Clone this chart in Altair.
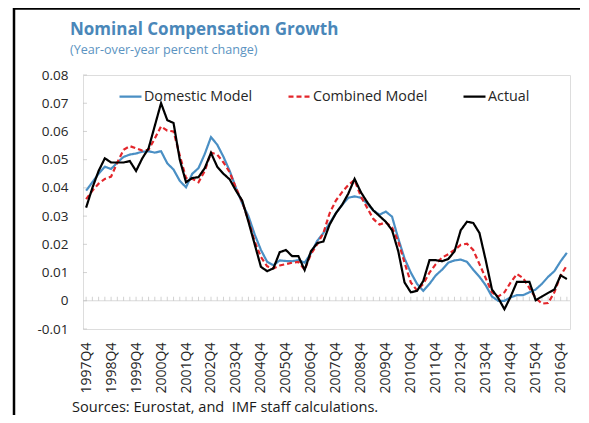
import altair as alt
import pandas as pd

# Categories: quarters from 1997Q4 to 2017Q1
all_q = [f"{y}Q{q}" for y in range(1997, 2018) for q in range(1, 5)]
quarters = all_q[all_q.index("1997Q4"): all_q.index("2017Q1") + 1]
tick_labels = [f"{y}Q4" for y in range(1997, 2017)]
y_ticks = [-0.01, 0.0, 0.01, 0.02, 0.03, 0.04, 0.05, 0.06, 0.07, 0.08]

series_names = ["Domestic Model", "Combined Model", "Actual"]
series_colors = ["#4a8fc4", "#e3262b", "#000000"]

domestic = [0.039, 0.042, 0.045, 0.0475, 0.0467, 0.049, 0.051, 0.0518, 0.0522, 0.0528,
            0.053, 0.0525, 0.053, 0.0487, 0.0465, 0.0425, 0.0402, 0.045, 0.047, 0.052,
            0.058, 0.0553, 0.051, 0.046, 0.040, 0.0345, 0.030, 0.0235, 0.018, 0.0138,
            0.0126, 0.0143, 0.0141, 0.014, 0.0144, 0.0135, 0.0168, 0.0212, 0.024, 0.0275,
            0.031, 0.034, 0.0365, 0.037, 0.0365, 0.0345, 0.032, 0.0305, 0.0316, 0.0298,
            0.022, 0.015, 0.010, 0.006, 0.0035, 0.006, 0.009, 0.011, 0.0135, 0.0143,
            0.0146, 0.0138, 0.011, 0.0085, 0.0055, 0.0015, 0.0, 0.0, 0.0012, 0.002,
            0.002, 0.003, 0.004, 0.006, 0.0085, 0.0105, 0.014, 0.017]

combined = [0.036, 0.039, 0.0415, 0.0432, 0.044, 0.049, 0.0535, 0.0548, 0.054, 0.0532,
            0.0535, 0.0575, 0.0618, 0.0603, 0.060, 0.0515, 0.0435, 0.0432, 0.042, 0.046,
            0.0525, 0.0518, 0.049, 0.0455, 0.040, 0.035, 0.0285, 0.021, 0.0155, 0.0122,
            0.0115, 0.0125, 0.013, 0.0135, 0.0138, 0.011, 0.0165, 0.020, 0.024, 0.031,
            0.0355, 0.0385, 0.041, 0.0428, 0.037, 0.033, 0.029, 0.027, 0.0278, 0.026,
            0.021, 0.0135, 0.0065, 0.0037, 0.006, 0.010, 0.013, 0.0153, 0.0165, 0.018,
            0.0198, 0.0202, 0.018, 0.013, 0.008, 0.003, 0.0015, 0.003, 0.0065, 0.0095,
            0.008, 0.0045, 0.001, -0.001, -0.0008, 0.003, 0.009, 0.0125]

actual = [0.033, 0.040, 0.046, 0.0505, 0.049, 0.049, 0.049, 0.0495, 0.046, 0.0505,
          0.054, 0.062, 0.070, 0.064, 0.063, 0.050, 0.042, 0.0435, 0.0438, 0.047,
          0.0524, 0.0475, 0.045, 0.043, 0.039, 0.0355, 0.028, 0.020, 0.012, 0.0105,
          0.0115, 0.0172, 0.018, 0.0158, 0.0158, 0.0109, 0.0175, 0.0204, 0.021, 0.027,
          0.031, 0.034, 0.038, 0.0432, 0.0385, 0.035, 0.032, 0.030, 0.028, 0.025,
          0.0175, 0.0065, 0.003, 0.0035, 0.007, 0.0144, 0.0144, 0.014, 0.0148, 0.0175,
          0.025, 0.028, 0.0276, 0.024, 0.0144, 0.004, 0.001, -0.003, 0.0015, 0.0067,
          0.0067, 0.0067, 0.0002, 0.0015, 0.0028, 0.004, 0.009, 0.0077]

title_text = "Nominal Compensation Growth"
subtitle_text = "(Year-over-year percent change)"
source_text = "Sources: Eurostat, and\u00a0 IMF staff calculations."

W, H = 487, 254
FONT = "Open Sans"

frames = []
for name, vals in zip(series_names, [domestic, combined, actual]):
    frames.append(pd.DataFrame({"quarter": quarters, "value": vals, "series": name}))
df = pd.concat(frames, ignore_index=True)

xscale = alt.Scale(type="point", padding=0.5, domain=quarters)
yscale = alt.Scale(domain=[-0.01, 0.08], nice=False, zero=False)

x_axis = alt.Axis(values=tick_labels, labelAngle=270, labelFontSize=14,
                  labelFont=FONT, labelColor="#262626", ticks=False,
                  domain=False, grid=False, labelPadding=13, title=None,
                  labelOverlap=False)
y_axis = alt.Axis(values=y_ticks, ticks=False, domain=False, grid=False,
                  labelPadding=15, labelFontSize=13.5, labelFont=FONT,
                  labelColor="#262626", title=None, labelOverlap=False,
                  labelExpr="datum.value == 0 ? '0' : (datum.value < 0 ? '-' : '') + format(abs(datum.value), '.2f')")

x_enc = alt.X("quarter:O", scale=xscale, sort=quarters, axis=x_axis)
y_enc = alt.Y("value:Q", scale=yscale, axis=y_axis)

legend_kw = dict(title=None, orient="none", legendX=35, legendY=9,
                 direction="horizontal", columns=3,
                 symbolType="stroke", symbolSize=484,
                 symbolStrokeWidth=2.2, labelFontSize=14.3,
                 labelFont=FONT, labelColor="#262626",
                 labelOffset=1, columnPadding=31)

color_enc = alt.Color("series:N", scale=alt.Scale(domain=series_names, range=series_colors),
                      legend=alt.Legend(**legend_kw))
dash_enc = alt.StrokeDash("series:N",
                          scale=alt.Scale(domain=series_names, range=[[1, 0], [5, 3], [1, 0]]),
                          legend=alt.Legend(**legend_kw))

base = alt.Chart(df)

lines = [
    base.transform_filter(alt.datum.series == name)
        .mark_line(strokeWidth=2.2)
        .encode(x=x_enc, y=y_enc, color=color_enc, strokeDash=dash_enc)
    for name in series_names
]

zero_line = alt.Chart(pd.DataFrame({"value": [0.0]})).mark_rule(
    color="#d9d9d9", strokeWidth=1).encode(y=y_enc)

q_ticks = alt.Chart(pd.DataFrame({"quarter": quarters, "value": 0.0})).mark_tick(
    orient="vertical", size=4, thickness=1, color="#bfbfbf", yOffset=-2
).encode(x=x_enc, y=y_enc)

y_inner_ticks = alt.Chart(pd.DataFrame({"value": y_ticks})).mark_tick(
    orient="horizontal", size=4, thickness=1, color="#bfbfbf"
).encode(y=y_enc, x=alt.value(2))

source = alt.Chart(alt.Data(values=[{}])).mark_text(
    align="left", baseline="alphabetic", fontSize=14.6, font=FONT, color="#1a1a1a"
).encode(x=alt.value(-11), y=alt.value(H + 83), text=alt.value(source_text))

frame_left = alt.Chart(alt.Data(values=[{}])).mark_rule(color="#000000", strokeWidth=2.5).encode(
    x=alt.value(-69), y=alt.value(-67), y2=alt.value(H + 90))
frame_top = alt.Chart(alt.Data(values=[{}])).mark_rule(color="#000000", strokeWidth=2.5).encode(
    x=alt.value(-70), x2=alt.value(W + 12), y=alt.value(-66.5))

chart = alt.layer(zero_line, q_ticks, y_inner_ticks, *lines, source, frame_left, frame_top).properties(
    width=W, height=H,
    title=alt.TitleParams(title_text, subtitle=subtitle_text, anchor="start", frame="group", dx=-13,
                          font=FONT, fontSize=17, fontWeight="bold", color="#4a87b9",
                          subtitleFont=FONT, subtitleFontSize=12.6, subtitleColor="#5b93c1",
                          offset=-51, subtitlePadding=5),
    autosize=alt.AutoSizeParams(type="none"),
    padding={"left": 75, "top": 67, "right": 10, "bottom": 86},
).configure_view(stroke="#d9d9d9", strokeWidth=1).configure_axis(
    labelOverlap=False
).configure(background="white")

chart.save("out.html", embed_options={"renderer": "svg", "actions": False})
